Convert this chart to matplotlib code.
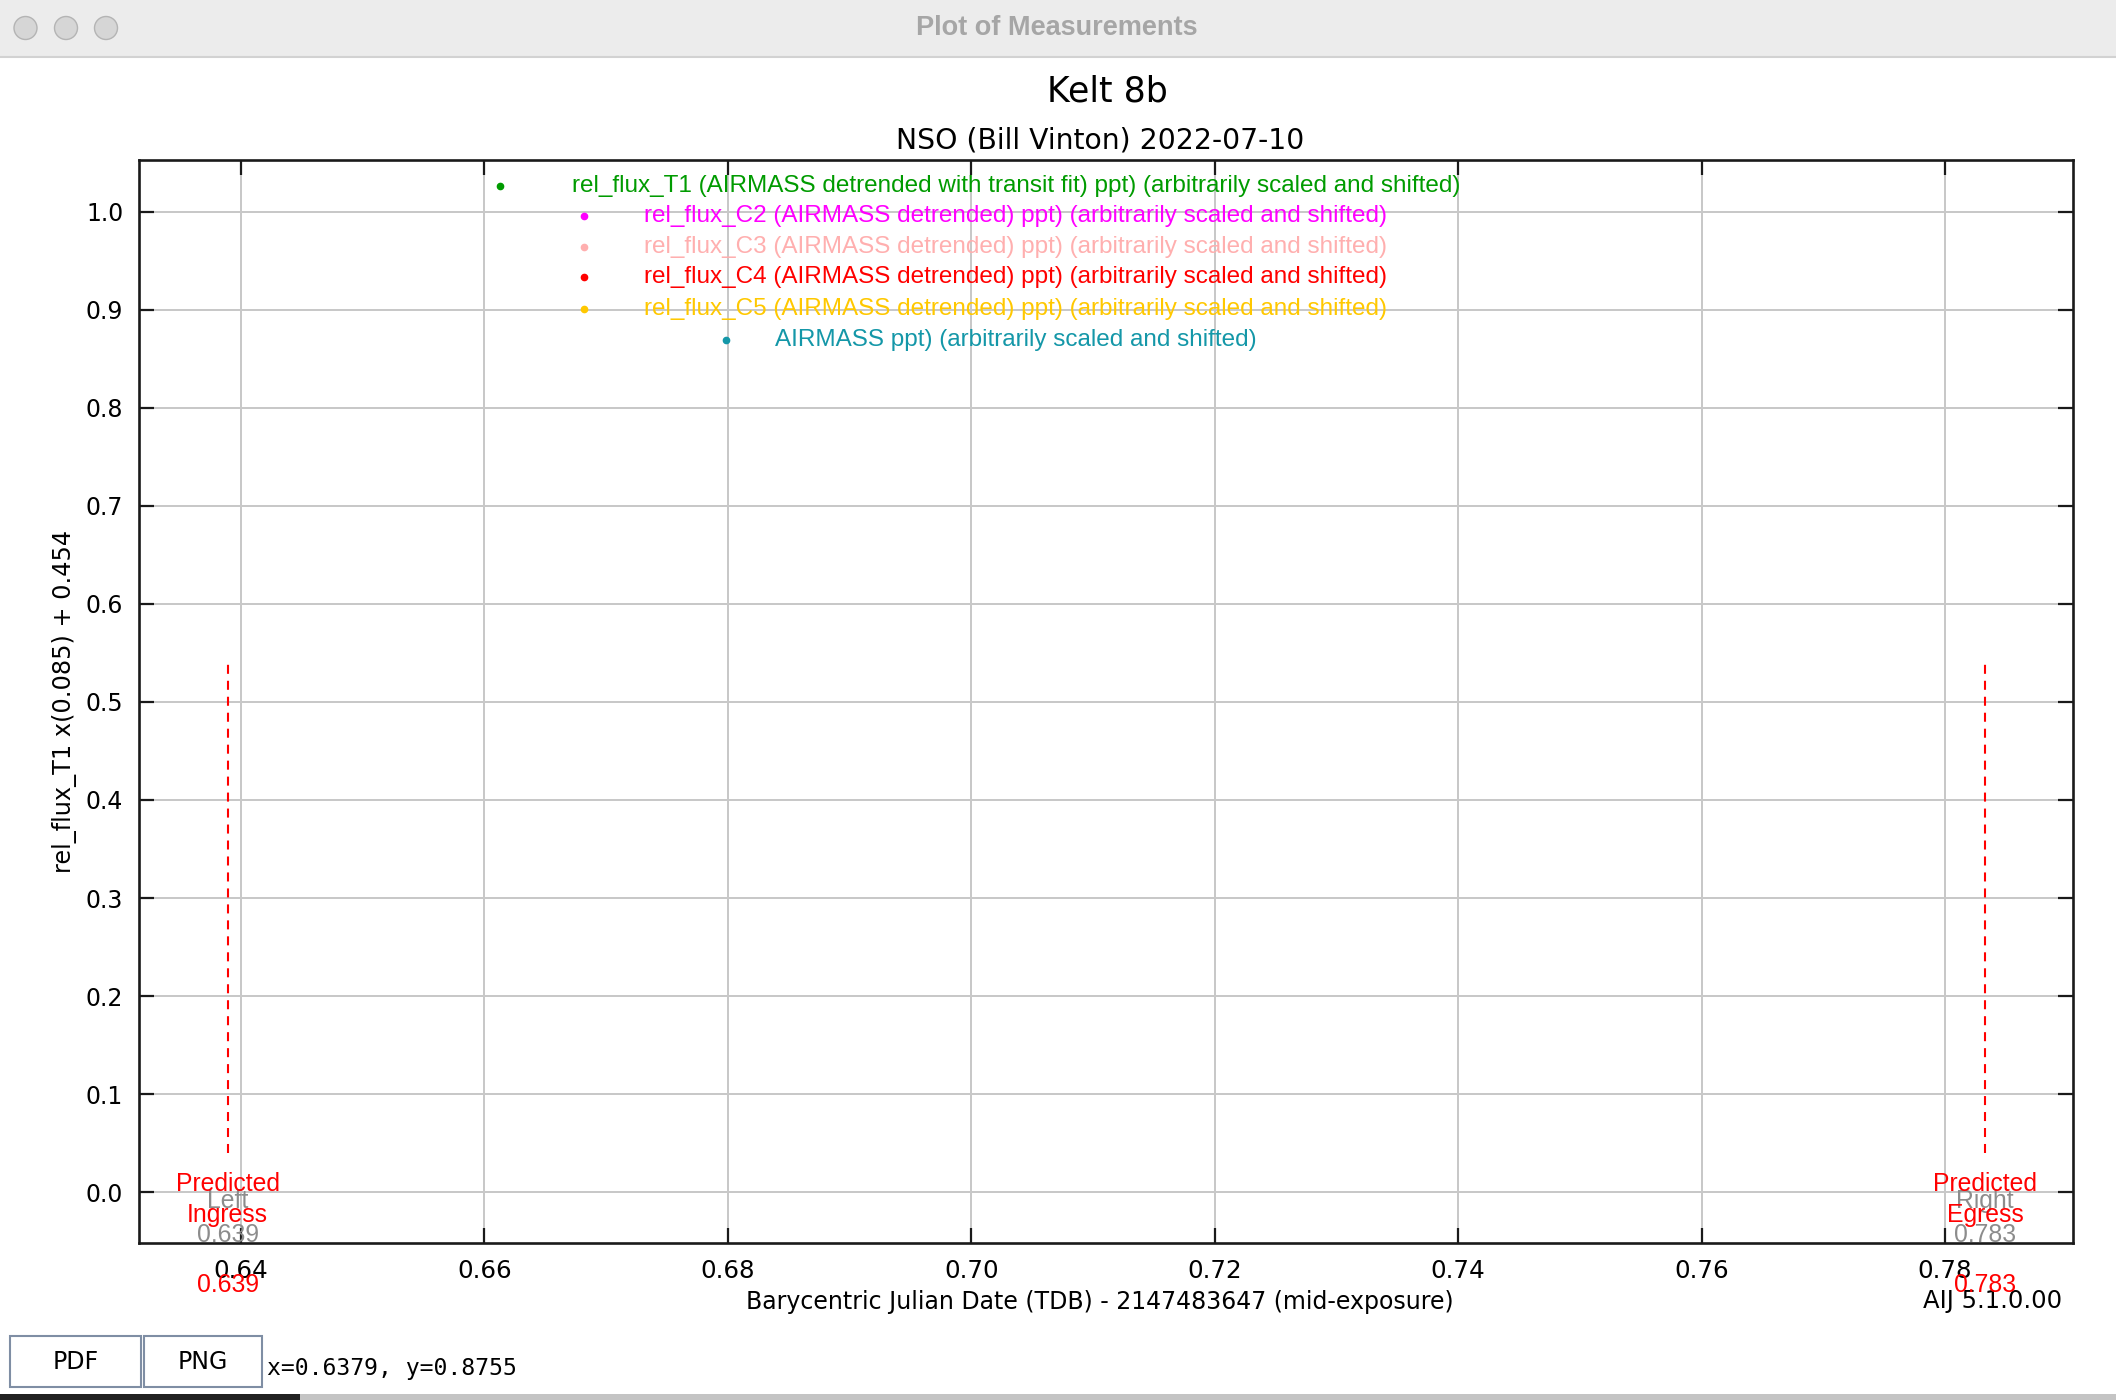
import matplotlib
matplotlib.use('Agg')
import matplotlib.pyplot as plt
from matplotlib.patches import Rectangle, Circle
from matplotlib.transforms import blended_transform_factory

plt.rcParams['lines.scale_dashes'] = False

# ---- chart content ----
window_title = "Plot of Measurements"
title = "Kelt 8b"
subtitle = "NSO (Bill Vinton) 2022-07-10"
x_label = "Barycentric Julian Date (TDB) - 2147483647 (mid-exposure)"
y_label = "rel_flux_T1 x(0.085) + 0.454"
version = "AIJ 5.1.0.00"

x_ticks = [0.64, 0.66, 0.68, 0.70, 0.72, 0.74, 0.76, 0.78]
y_ticks = [0.0, 0.1, 0.2, 0.3, 0.4, 0.5, 0.6, 0.7, 0.8, 0.9, 1.0]
x_range = (0.63158, 0.79052)
y_range = (-0.0512, 1.052)

series_labels = [
    "rel_flux_T1 (AIRMASS detrended with transit fit) ppt) (arbitrarily scaled and shifted)",
    "rel_flux_C2 (AIRMASS detrended) ppt) (arbitrarily scaled and shifted)",
    "rel_flux_C3 (AIRMASS detrended) ppt) (arbitrarily scaled and shifted)",
    "rel_flux_C4 (AIRMASS detrended) ppt) (arbitrarily scaled and shifted)",
    "rel_flux_C5 (AIRMASS detrended) ppt) (arbitrarily scaled and shifted)",
    "AIRMASS ppt) (arbitrarily scaled and shifted)",
]
series_colors = ['#009b00', '#ff00ff', '#ffafaf', '#ff0000', '#ffc800', '#1497a8']

ingress = 0.6389
egress = 0.7833
marker_span = (0.04, 0.54)
cursor_x, cursor_y = 0.6379, 0.8755

W, H = 2116, 1400
fig = plt.figure(figsize=(W / 100, H / 100), dpi=100)
fig.patch.set_facecolor('white')

# window chrome drawn in pixel units
bg = fig.add_axes([0, 0, 1, 1], zorder=-5)
bg.set_xlim(0, W)
bg.set_ylim(H, 0)
bg.axis('off')
bg.add_patch(Rectangle((0, 0), W, 57, facecolor='#ececec', edgecolor='none'))
bg.plot([0, W], [57, 57], color='#d2d2d2', lw=1.5)
for cx in (25.5, 66, 106):
    bg.add_patch(Circle((cx, 28), 11.5, facecolor='#d6d6d6', edgecolor='#b4b4b4', lw=1))
bg.text(1057, 28, window_title, fontsize=19.5, fontweight='bold', color='#a6a6a6',
        family='Liberation Sans', ha='center', va='center')
bg.text(1107, 101.5, title, fontsize=25, family='DejaVu Sans', ha='center', va='baseline')
bg.text(1100, 148, subtitle, fontsize=20.3, family='DejaVu Sans', ha='center', va='baseline')
bg.text(2062, 1308, version, fontsize=17.5, family='DejaVu Sans', ha='right', va='baseline')

# buttons + cursor readout
for (x0, x1, lab) in [(10, 141, 'PDF'), (144, 262, 'PNG')]:
    bg.add_patch(Rectangle((x0, 1336), x1 - x0, 51, facecolor='white', edgecolor='#7f8ea4', lw=1.5))
    bg.text((x0 + x1) / 2, 1362, lab, fontsize=17, family='DejaVu Sans', ha='center', va='center')
bg.text(267, 1368, f"x={cursor_x:.4f}, y={cursor_y:.4f}", fontsize=16.7,
        family='DejaVu Sans Mono', ha='left', va='center')
bg.add_patch(Rectangle((0, 1394), 300, 6, facecolor='#222222', edgecolor='none'))
bg.add_patch(Rectangle((300, 1394), W - 300, 6, facecolor='#c4c4c4', edgecolor='none'))

# ---- plot area ----
left, right, top, bottom = 138.5, 2073, 160.5, 1242.5
ax = fig.add_axes([left / W, (H - bottom) / H, (right - left) / W, (bottom - top) / H])
ax.set_xlim(*x_range)
ax.set_ylim(*y_range)
ax.set_xticks(x_ticks)
ax.set_xticklabels([f"{v:.2f}" for v in x_ticks])
ax.set_yticks(y_ticks)
ax.set_yticklabels([f"{v:.1f}" for v in y_ticks])
ax.grid(True, color='#c8c8c8', lw=1.44, zorder=0)
ax.set_axisbelow(True)
ax.tick_params(direction='in', length=10.8, width=1.6, top=True, right=True,
               color='#1a1a1a')
ax.tick_params(axis='x', pad=12, labelsize=17.7)
ax.tick_params(axis='y', pad=11, labelsize=17)
for s in ax.spines.values():
    s.set_linewidth(1.9)
    s.set_color('#1a1a1a')

ax.set_xlabel(x_label, fontsize=17, family='DejaVu Sans')
ax.xaxis.set_label_coords((1100 - left) / (right - left), -0.0440)
ax.set_ylabel(y_label, fontsize=17.3, family='DejaVu Sans')
ax.yaxis.set_label_coords(-0.032, 0.5)

# legend rows (AIJ style, centered text with a dot to the left)
row_y = [0.9760, 0.9485, 0.9199, 0.8924, 0.8625, 0.8338]
dot_x = [0.1869, 0.2303, 0.2303, 0.2303, 0.2303, 0.3037]
for lab, col, yy, xx in zip(series_labels, series_colors, row_y, dot_x):
    ax.plot([xx], [yy], 'o', ms=4.5, color=col, transform=ax.transAxes, clip_on=False)
    ax.text(0.4536, yy, lab, color=col, fontsize=17.5, family='Liberation Sans',
            ha='center', va='center', transform=ax.transAxes)

# predicted ingress / egress markers
tr = blended_transform_factory(ax.transData, ax.transAxes)
for xv, side, event in [(ingress, 'Left', 'Ingress'), (egress, 'Right', 'Egress')]:
    ax.plot([xv, xv], marker_span, color='red', lw=1.5, dashes=(6.5, 5), zorder=3)
    lab_font = dict(fontsize=17.8, family='Liberation Sans', ha='center', va='baseline',
                    transform=tr, clip_on=False)
    ax.text(xv, 0.0319, side, color='#8c8c8c', **lab_font)
    ax.text(xv, 0.0005, f"{xv:.3f}", color='#8c8c8c', **lab_font)
    ax.text(xv, 0.0476, 'Predicted', color='red', **lab_font)
    ax.text(xv, 0.0189, event, color='red', **lab_font)
    ax.text(xv, -0.0457, f"{xv:.3f}", color='red', **lab_font)

fig.savefig('out.png', dpi=100)
